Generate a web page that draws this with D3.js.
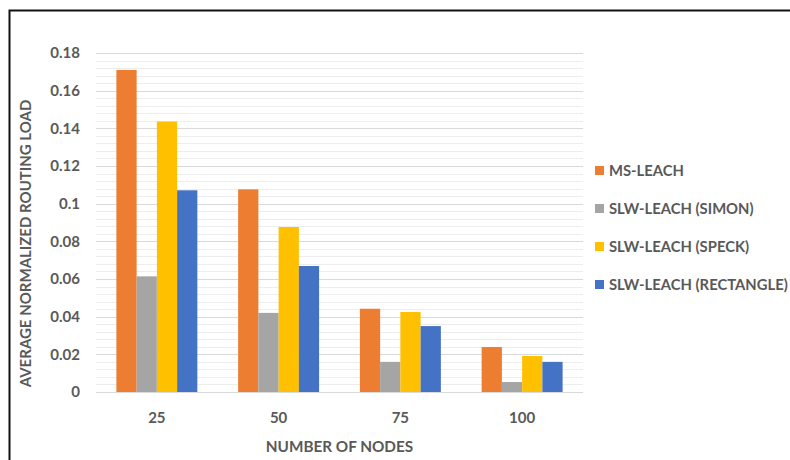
<!DOCTYPE html>
<html lang="en">
  <head>
    <meta charset="UTF-8" />
    <title>Average Normalized Routing Load</title>
    <script src="https://cdn.jsdelivr.net/npm/d3@7"></script>
    <style>
      body { margin: 0; background: #fff; }
      text { font-family: Lato, 'Open Sans', sans-serif; font-weight: bold; fill: #595959; }
    </style>
  </head>
  <body>
    <div id='app'></div>

    <script>
  // data
  const nodes = ['25', '50', '75', '100']
  const seriesNames = ['MS-LEACH', 'SLW-LEACH (SIMON)', 'SLW-LEACH (SPECK)', 'SLW-LEACH (RECTANGLE)']
  const msLeach = [0.171, 0.1076, 0.0442, 0.0239]
  const simon = [0.0614, 0.042, 0.016, 0.0053]
  const speck = [0.1436, 0.0876, 0.0425, 0.0191]
  const rectangle = [0.1071, 0.0669, 0.035, 0.016]
  const yTicks = [0, 0.02, 0.04, 0.06, 0.08, 0.1, 0.12, 0.14, 0.16, 0.18]
  const colors = ['#ED7D31', '#A5A5A5', '#FFC000', '#4472C4']

  const allSeries = [msLeach, simon, speck, rectangle]
  const width = 790, height = 460
  const margin = { left: 96, right: 207, top: 53, bottom: 68 }

  const svg = d3.select('#app').append('svg')
    .attr('width', width)
    .attr('height', height)

  // frame
  svg.append('path')
    .attr('d', `M9.5,${height} V10.5 H${width}`)
    .attr('fill', 'none')
    .attr('stroke', '#111')
    .attr('stroke-width', 2)

  const x = d3.scaleBand()
    .domain(nodes)
    .range([margin.left, width - margin.right])
    .paddingInner(0.335)
    .paddingOuter(0.1675)

  const xs = d3.scaleBand()
    .domain(d3.range(seriesNames.length))
    .range([0, x.bandwidth()])

  const y = d3.scaleLinear()
    .domain([0, 0.18])
    .range([height - margin.bottom, margin.top])

  // minor gridlines
  svg.append('g')
    .selectAll('line')
    .data(d3.range(0, 0.1801, 0.004))
    .join('line')
    .attr('x1', margin.left)
    .attr('x2', width - margin.right)
    .attr('y1', d => Math.round(y(d)) + 0.5)
    .attr('y2', d => Math.round(y(d)) + 0.5)
    .attr('stroke', '#EDEDED')

  // major gridlines
  svg.append('g')
    .selectAll('line')
    .data(yTicks)
    .join('line')
    .attr('x1', margin.left)
    .attr('x2', width - margin.right)
    .attr('y1', d => Math.round(y(d)) + 0.5)
    .attr('y2', d => Math.round(y(d)) + 0.5)
    .attr('stroke', '#D9D9D9')

  // y axis labels
  const yAxis = svg.append('g')
    .attr('transform', `translate(${margin.left - 16},0)`)
    .call(d3.axisLeft(y).tickValues(yTicks).tickSize(0).tickPadding(0).tickFormat(d => d3.format('')(+d.toFixed(2))))
  yAxis.select('.domain').remove()
  yAxis.selectAll('text').style('font-size', '15px').attr('fill', '#595959').style('font-family', 'Lato')

  // bars
  svg.append('g')
    .selectAll('g')
    .data(allSeries)
    .join('g')
    .attr('fill', (d, i) => colors[i])
    .each(function (vals, si) {
      d3.select(this).selectAll('rect')
        .data(vals)
        .join('rect')
        .attr('x', (d, i) => x(nodes[i]) + xs(si))
        .attr('width', xs.bandwidth())
        .attr('y', d => y(d))
        .attr('height', d => y(0) - y(d))
    })

  // x axis labels
  const xAxis = svg.append('g')
    .attr('transform', `translate(0,${height - margin.bottom + 20})`)
    .call(d3.axisBottom(x).tickSize(0).tickPadding(0))
  xAxis.select('.domain').remove()
  xAxis.selectAll('text').style('font-size', '15px').attr('fill', '#595959').style('font-family', 'Lato')

  // axis titles
  svg.append('text')
    .attr('x', (margin.left + width - margin.right) / 2)
    .attr('y', 452)
    .attr('text-anchor', 'middle')
    .style('font-size', '15.3px')
    .text('NUMBER OF NODES')

  svg.append('text')
    .attr('transform', `translate(31,243.5) rotate(-90)`)
    .attr('text-anchor', 'middle')
    .style('font-size', '15px')
    .text('AVERAGE NORMALIZED ROUTING LOAD')

  // legend
  const legend = svg.append('g')
    .selectAll('g')
    .data(seriesNames)
    .join('g')
    .attr('transform', (d, i) => `translate(595,${171 + i * 38})`)
  legend.append('rect')
    .attr('x', 0)
    .attr('y', -5)
    .attr('width', 9)
    .attr('height', 9)
    .attr('fill', (d, i) => colors[i])
  legend.append('text')
    .attr('x', 14)
    .attr('dy', '0.35em')
    .style('font-size', '14.8px')
    .text(d => d)
    </script>
  </body>
</html>
